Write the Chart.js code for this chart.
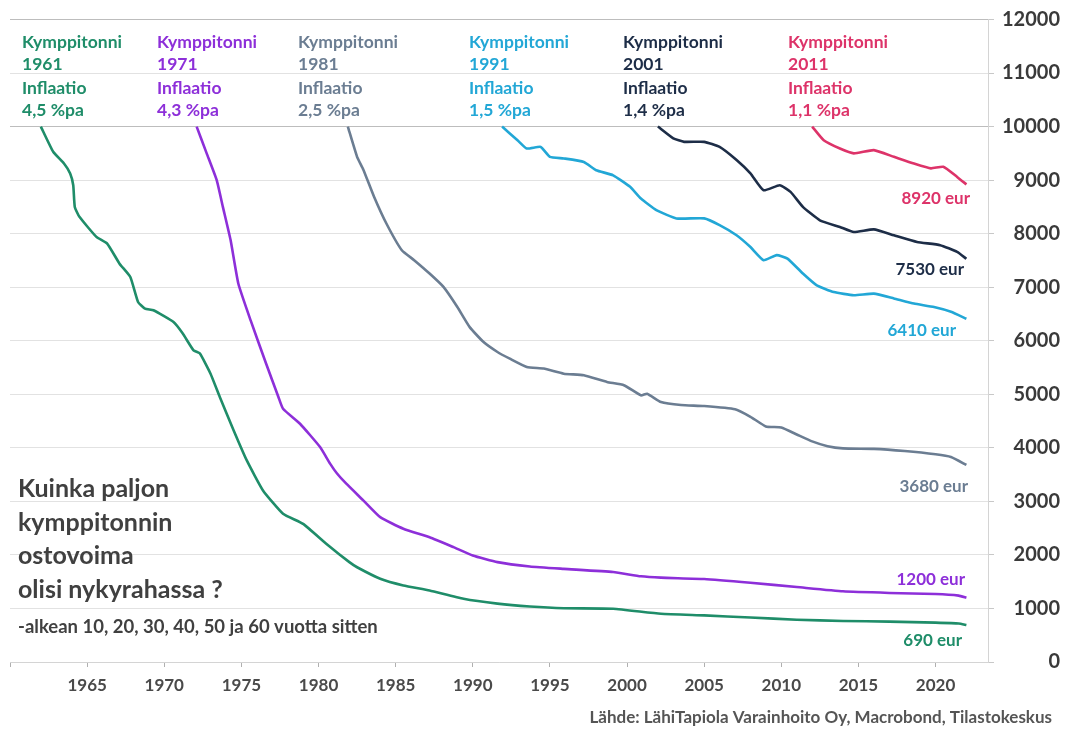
<!DOCTYPE html>
<html>
<head>
<meta charset="utf-8">
<script src="https://cdn.jsdelivr.net/npm/chart.js@4/dist/chart.umd.min.js"></script>
<style>
  body { margin: 0; background: #fff; }
  #wrap { width: 1066px; height: 730px; }
</style>
</head>
<body>
<div id="wrap"><canvas id="chart" width="1066" height="730"></canvas></div>
<script>
// Kymppitonni 1961
const years1961 = [1962.0, 1962.8, 1963.5, 1963.9, 1964.1, 1964.2, 1964.5, 1965.6, 1966.3, 1967.1, 1967.8, 1968.3, 1968.75, 1969.3, 1970.6, 1971.2, 1971.9, 1972.3, 1973.0, 1973.6, 1974.5, 1975.35, 1976.4, 1977.7, 1979.0, 1980.5, 1982.0, 1982.5, 1984.0, 1985.5, 1987.2, 1989.4, 1991.6, 1993.7, 1995.9, 1999.1, 2002.2, 2005, 2008, 2011, 2014, 2017, 2020, 2021.5, 2022];
const values1961 = [10000, 9530, 9310, 9125, 8905, 8500, 8315, 7940, 7815, 7440, 7190, 6725, 6600, 6570, 6350, 6135, 5820, 5765, 5385, 4950, 4325, 3765, 3205, 2770, 2580, 2210, 1865, 1770, 1555, 1430, 1335, 1180, 1090, 1037, 1005, 995, 900, 870, 830, 790, 765, 755, 735, 720, 690];

// Kymppitonni 1971
const years1971 = [1972.1, 1972.75, 1973.4, 1973.8, 1974.3, 1974.8, 1975.6, 1976.6, 1977.4, 1977.7, 1978.8, 1980.1, 1980.75, 1981.2, 1981.8, 1982.9, 1984.0, 1985.5, 1987.2, 1988.75, 1990.0, 1991.6, 1993.7, 1995.9, 1999.1, 2000.9, 2002.2, 2005, 2008, 2011, 2014, 2017, 2020, 2021.5, 2022];
const values1971 = [10000, 9500, 9000, 8500, 7880, 7070, 6380, 5575, 4950, 4730, 4450, 4015, 3705, 3520, 3330, 3020, 2705, 2490, 2330, 2145, 1990, 1865, 1785, 1740, 1680, 1600, 1575, 1550, 1480, 1400, 1320, 1290, 1270, 1240, 1200];

// Kymppitonni 1981
const years1981 = [1981.9, 1982.5, 1982.9, 1983.6, 1984.4, 1985.4, 1986.2, 1987.2, 1988.1, 1989.0, 1989.8, 1990.7, 1991.6, 1992.4, 1993.5, 1994.6, 1995.9, 1997.2, 1998.7, 1999.8, 2000.9, 2001.3, 2002.2, 2003.5, 2005, 2007, 2008, 2009, 2010, 2011, 2012, 2013, 2014, 2016, 2018, 2020, 2021, 2022];
const values1981 = [10000, 9435, 9200, 8690, 8190, 7690, 7505, 7255, 7005, 6630, 6255, 5975, 5790, 5665, 5510, 5480, 5385, 5355, 5230, 5170, 4980, 5010, 4855, 4800, 4780, 4720, 4580, 4400, 4380, 4250, 4120, 4030, 3990, 3980, 3940, 3880, 3830, 3680];

// Kymppitonni 1991
const years1991 = [1991.9, 1992.9, 1993.5, 1994.4, 1995.0, 1995.9, 1997.2, 1998.0, 1999.1, 2000.2, 2000.9, 2001.9, 2003.2, 2005.0, 2006.0, 2007.1, 2008.0, 2008.85, 2009.7, 2010.4, 2011.4, 2012.3, 2013.4, 2014.7, 2016.0, 2017.3, 2018.6, 2019.9, 2021.0, 2022.0];
const values1991 = [10000, 9745, 9590, 9620, 9435, 9405, 9340, 9185, 9090, 8875, 8655, 8440, 8285, 8285, 8160, 7970, 7750, 7505, 7600, 7535, 7255, 7035, 6910, 6850, 6880, 6790, 6695, 6630, 6540, 6410];

// Kymppitonni 2001
const years2001 = [2002.0, 2003.0, 2003.7, 2005.0, 2006.0, 2007.1, 2008.0, 2008.85, 2009.9, 2010.6, 2011.4, 2012.5, 2013.8, 2014.7, 2016.0, 2017.3, 2018.8, 2020.3, 2021.4, 2022.0];
const values2001 = [10000, 9780, 9715, 9715, 9620, 9375, 9125, 8810, 8905, 8780, 8500, 8250, 8125, 8030, 8080, 7970, 7845, 7785, 7660, 7530];

// Kymppitonni 2011
const years2011 = [2012.0, 2012.75, 2013.8, 2014.7, 2016.0, 2017.3, 2018.6, 2019.7, 2020.5, 2021.4, 2022.0];
const values2011 = [10000, 9745, 9590, 9500, 9560, 9435, 9310, 9220, 9250, 9060, 8920];

const startYears = ['1961', '1971', '1981', '1991', '2001', '2011'];
const inflation = ['4,5 %pa', '4,3 %pa', '2,5 %pa', '1,5 %pa', '1,4 %pa', '1,1 %pa'];
const endLabels = ['690 eur', '1200 eur', '3680 eur', '6410 eur', '7530 eur', '8920 eur'];
const xTicks = [1960, 1965, 1970, 1975, 1980, 1985, 1990, 1995, 2000, 2005, 2010, 2015, 2020];
const yTickStep = 1000;

const colors = ['#1f8d69', '#8d2fd9', '#6b7d92', '#22a7d6', '#1d2d47', '#dd3369'];

const allYears = [years1961, years1971, years1981, years1991, years2001, years2011];
const allValues = [values1961, values1971, values1981, values1991, values2001, values2011];

const datasets = allYears.map((yrs, s) => ({
    label: 'Kymppitonni ' + startYears[s],
    data: yrs.map((x, i) => ({ x: x, y: allValues[s][i] })),
    borderColor: colors[s],
    borderWidth: 2.6,
    pointRadius: 0,
    tension: 0.15,
    fill: false
}));

const FONT = 'Lato, "Open Sans", sans-serif';

// header, titles and end labels
const textPlugin = {
    id: 'texts',
    afterDraw(chart) {
        const ctx = chart.ctx;
        ctx.save();
        ctx.textBaseline = 'middle';

        // header groups
        const groupX = [22, 157, 298, 469, 623, 788];
        const rowY = [42, 64, 88, 110];
        ctx.textAlign = 'left';
        ctx.font = 'bold 17.5px ' + FONT;
        startYears.forEach((yr, i) => {
            ctx.fillStyle = colors[i];
            ctx.fillText('Kymppitonni', groupX[i], rowY[0]);
            ctx.fillText(yr, groupX[i], rowY[1]);
            ctx.fillText('Inflaatio', groupX[i], rowY[2]);
            ctx.fillText(inflation[i], groupX[i], rowY[3]);
        });

        // title on the left
        ctx.fillStyle = '#404040';
        ctx.font = 'bold 25px ' + FONT;
        ctx.fillText('Kuinka paljon', 18, 489);
        ctx.fillText('kymppitonnin', 18, 523);
        ctx.fillText('ostovoima', 18, 556);
        ctx.fillText('olisi nykyrahassa ?', 18, 590);
        ctx.font = 'bold 18.5px ' + FONT;
        ctx.fillText('-alkean 10, 20, 30, 40, 50 ja 60 vuotta sitten', 18, 627);

        // end labels
        const labelRight = [962, 965, 968, 956, 964, 970];
        const labelY = [641, 580, 487, 331, 270, 199];
        ctx.textAlign = 'right';
        ctx.font = 'bold 17px ' + FONT;
        endLabels.forEach((t, i) => {
            ctx.fillStyle = colors[i];
            ctx.fillText(t, labelRight[i], labelY[i]);
        });

        // source
        ctx.fillStyle = '#555';
        ctx.font = 'bold 17px ' + FONT;
        ctx.fillText('Lähde: LähiTapiola Varainhoito Oy, Macrobond, Tilastokeskus', 1052, 718);
        ctx.restore();
    }
};

const ctx = document.getElementById('chart');

new Chart(ctx, {
    type: 'line',
    data: { datasets: datasets },
    options: {
        responsive: false,
        animation: false,
        devicePixelRatio: 1,
        layout: { padding: { left: 10, right: 6, top: 19.5, bottom: 28 } },
        plugins: {
            legend: { display: false },
            tooltip: { enabled: false }
        },
        scales: {
            x: {
                type: 'linear',
                min: 1960,
                max: 2023.4,
                afterBuildTicks: axis => {
                    axis.ticks = xTicks.map(v => ({ value: v }));
                },
                afterFit: axis => { axis.height = 40; },
                ticks: {
                    autoSkip: false,
                    maxRotation: 0,
                    padding: 8,
                    color: '#4a4a4a',
                    font: { family: FONT, size: 17, weight: 'bold' },
                    callback: v => v === 1960 ? '' : String(v)
                },
                grid: {
                    drawOnChartArea: false,
                    drawTicks: true,
                    tickLength: 5,
                    tickColor: '#b0b0b0'
                },
                border: { color: '#d4d4d4' }
            },
            y: {
                position: 'right',
                min: 0,
                max: 12000,
                afterFit: axis => { axis.width = 72; },
                ticks: {
                    stepSize: yTickStep,
                    crossAlign: 'far',
                    color: '#3a3a3a',
                    font: { family: FONT, size: 20, weight: 'bold' },
                    callback: v => String(v)
                },
                grid: {
                    color: c => (c.tick && (c.tick.value === 10000 || c.tick.value === 12000)) ? '#bdbdbd' : '#e2e2e2',
                    tickLength: 6,
                    tickColor: '#c8c8c8'
                },
                border: { color: '#d4d4d4' }
            }
        }
    },
    plugins: [textPlugin]
});
</script>
</body>
</html>
